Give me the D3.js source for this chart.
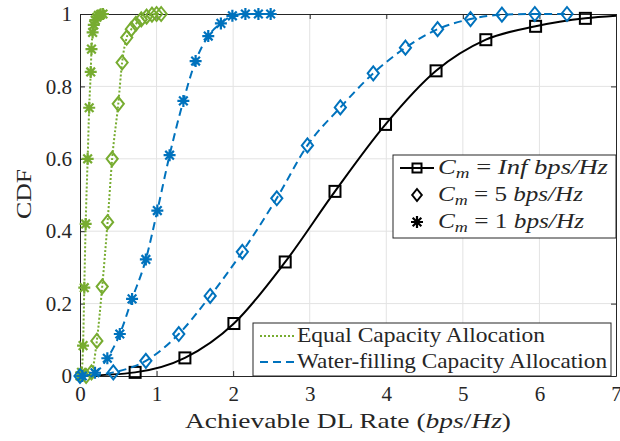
<!DOCTYPE html>
<html>
<head>
<meta charset="utf-8">
<script src="https://cdn.jsdelivr.net/npm/d3@7"></script>
<style>
  body { margin: 0; background: #fff; }
</style>
</head>
<body>
<div id="chart"></div>
<script>
// Data (rate in bps/Hz, CDF)
const infRate  = [0, 0.72, 1.37, 2.01, 2.68, 3.33, 3.99, 4.65, 5.30, 5.95, 6.60, 7.0];
const infCdf   = [0, 0.01, 0.05, 0.145, 0.315, 0.51, 0.695, 0.843, 0.929, 0.966, 0.988, 0.995];

const wf5Rate  = [0, 0.435, 0.86, 1.29, 1.70, 2.12, 2.57, 2.97, 3.40, 3.83, 4.25, 4.67, 5.10, 5.51, 5.94, 6.36];
const wf5Cdf   = [0, 0.01, 0.042, 0.116, 0.221, 0.343, 0.491, 0.637, 0.742, 0.836, 0.907, 0.958, 0.986, 0.998, 1, 1];

const wf1Rate  = [0.03, 0.196, 0.357, 0.52, 0.68, 0.86, 1.01, 1.17, 1.35, 1.51, 1.675, 1.84, 1.99, 2.16, 2.33, 2.49];
const wf1Cdf   = [0, 0.009, 0.049, 0.116, 0.213, 0.322, 0.457, 0.61, 0.76, 0.87, 0.939, 0.974, 0.995, 1, 1, 1];

const eq5Rate  = [0.08, 0.15, 0.22, 0.29, 0.36, 0.42, 0.50, 0.55, 0.61, 0.67, 0.73, 0.80, 0.87, 0.94, 1.00, 1.06];
const eq5Cdf   = [0, 0.01, 0.097, 0.247, 0.425, 0.60, 0.752, 0.866, 0.935, 0.958, 0.973, 0.985, 0.993, 0.998, 1, 1];

const eq1Rate  = [0, 0.02, 0.04, 0.056, 0.074, 0.10, 0.12, 0.14, 0.15, 0.165, 0.18, 0.20, 0.22, 0.24, 0.27, 0.30];
const eq1Cdf   = [0, 0.01, 0.084, 0.244, 0.42, 0.60, 0.741, 0.84, 0.903, 0.949, 0.97, 0.983, 0.991, 0.996, 0.999, 1];

const xTicks = [0, 1, 2, 3, 4, 5, 6, 7];
const yTicks = [0, 0.2, 0.4, 0.6, 0.8, 1];

const width = 620, height = 441;
const green = "#77AC30", blue = "#0072BD", black = "#000";

const svg = d3.select("#chart").append("svg")
    .attr("width", width)
    .attr("height", height);

const x = d3.scaleLinear().domain([0, 7]).range([80, 616]);
const y = d3.scaleLinear().domain([0, 1]).range([376, 14]);

// grid
const grid = svg.append("g");
grid.selectAll(".gx").data(xTicks.slice(1, -1)).enter().append("line")
    .attr("x1", d => x(d)).attr("x2", d => x(d))
    .attr("y1", y(0)).attr("y2", y(1))
    .attr("stroke", "#e3e3e3").attr("stroke-width", 1);
grid.selectAll(".gy").data(yTicks.slice(1, -1)).enter().append("line")
    .attr("x1", x(0)).attr("x2", x(7))
    .attr("y1", d => y(d)).attr("y2", d => y(d))
    .attr("stroke", "#e3e3e3").attr("stroke-width", 1);

// axes (ticks inward, box on)
const fmt = d => d === 0 || d === 1 ? String(d) : d3.format(".1f")(d);
const axStyle = g => {
    g.attr("font-family", null);
    g.select(".domain").attr("stroke", "#262626");
    g.selectAll(".tick line").attr("stroke", "#262626");
    g.selectAll(".tick text").style("font-size", "21px");
};
svg.append("g").attr("transform", `translate(0,${y(0)})`)
    .call(d3.axisBottom(x).tickValues(xTicks).tickSizeInner(-5).tickSizeOuter(0).tickPadding(10).tickFormat(d3.format("d")))
    .call(axStyle);
svg.append("g").attr("transform", `translate(0,${y(1)})`)
    .call(d3.axisTop(x).tickValues(xTicks).tickSizeInner(-5).tickSizeOuter(0).tickFormat(""))
    .call(axStyle);
svg.append("g").attr("transform", `translate(${x(0)},0)`)
    .call(d3.axisLeft(y).tickValues(yTicks).tickSizeInner(-5).tickSizeOuter(0).tickPadding(8).tickFormat(fmt))
    .call(axStyle);
svg.append("g").attr("transform", `translate(${x(7)},0)`)
    .call(d3.axisRight(y).tickValues(yTicks).tickSizeInner(-5).tickSizeOuter(0).tickFormat(""))
    .call(axStyle);

// marker shapes
const diamond = (g, cx, cy, color, s = 7) => g.append("path")
    .attr("d", `M${cx},${cy - s}L${cx + s * 0.8},${cy}L${cx},${cy + s}L${cx - s * 0.8},${cy}Z`)
    .attr("fill", "none").attr("stroke", color).attr("stroke-width", 2);
const square = (g, cx, cy, color, s = 5.5) => g.append("rect")
    .attr("x", cx - s).attr("y", cy - s).attr("width", 2 * s).attr("height", 2 * s)
    .attr("fill", "none").attr("stroke", color).attr("stroke-width", 2);
const star = (g, cx, cy, color, s = 6) => {
    const a = s * 0.72;
    g.append("path")
        .attr("d", `M${cx - s},${cy}H${cx + s}M${cx},${cy - s}V${cy + s}M${cx - a},${cy - a}L${cx + a},${cy + a}M${cx - a},${cy + a}L${cx + a},${cy - a}`)
        .attr("stroke", color).attr("stroke-width", 2.2).attr("fill", "none");
};

const line = d3.line().x(d => x(d[0])).y(d => y(d[1])).curve(d3.curveMonotoneX);

function drawSeries(xs, ys, color, dash, marker, firstMark = 0, lastMark = xs.length - 1) {
    const pts = xs.map((v, i) => [v, ys[i]]);
    const g = svg.append("g");
    g.append("path").datum(pts).attr("d", line)
        .attr("fill", "none").attr("stroke", color).attr("stroke-width", 2)
        .attr("stroke-dasharray", dash);
    pts.forEach((p, i) => {
        if (i >= firstMark && i <= lastMark) marker(g, x(p[0]), y(p[1]), color);
    });
}

drawSeries(infRate, infCdf, black, null, square, 1, infRate.length - 2);
drawSeries(eq5Rate, eq5Cdf, green, "2,2", diamond);
drawSeries(eq1Rate, eq1Cdf, green, "2,2", star);
drawSeries(wf5Rate, wf5Cdf, blue, "8,5", diamond);
drawSeries(wf1Rate, wf1Cdf, blue, "8,5", star);

// axis labels
svg.append("text").attr("x", 348).attr("y", 428).attr("text-anchor", "middle")
    .attr("textLength", 326).attr("lengthAdjust", "spacingAndGlyphs")
    .style("font-size", "21px")
    .html('Achievable DL Rate (<tspan font-style="italic">bps</tspan>/<tspan font-style="italic">Hz</tspan>)');
svg.append("text").attr("transform", "translate(31,194) rotate(-90)").attr("text-anchor", "middle")
    .attr("textLength", 50).attr("lengthAdjust", "spacingAndGlyphs")
    .style("font-size", "21px").text("CDF");

// legend 1: capacity
const leg1 = svg.append("g");
leg1.append("rect").attr("x", 393).attr("y", 155).attr("width", 223).attr("height", 83)
    .attr("fill", "#fff").attr("stroke", "#262626").attr("stroke-width", 1);
const capLabels = ["Inf", "5", "1"];
const capMarkers = [square, diamond, star];
const capWidths = [170, 145, 146];
capLabels.forEach((lab, i) => {
    const cy = 168 + i * 27;
    if (i === 0) leg1.append("line").attr("x1", 400).attr("x2", 434).attr("y1", cy).attr("y2", cy)
        .attr("stroke", black).attr("stroke-width", 2);
    capMarkers[i](leg1, 417, cy, black, i === 0 ? 4.5 : 6);
    const t = leg1.append("text").attr("x", 438).attr("y", cy + 6)
        .attr("textLength", capWidths[i]).attr("lengthAdjust", "spacingAndGlyphs").style("font-size", "21px");
    t.append("tspan").attr("font-style", "italic").text("C");
    t.append("tspan").attr("font-style", "italic").attr("dy", 4).style("font-size", "15px").text("m");
    t.append("tspan").attr("dy", -4).text(" = ");
    if (i === 0) {
        t.append("tspan").attr("font-style", "italic").text("Inf  bps/Hz");
    } else {
        t.append("tspan").text(lab + " ");
        t.append("tspan").attr("font-style", "italic").text("bps/Hz");
    }
});

// legend 2: allocation scheme
const leg2 = svg.append("g");
leg2.append("rect").attr("x", 253).attr("y", 323).attr("width", 358).attr("height", 53)
    .attr("fill", "#fff").attr("stroke", "#262626").attr("stroke-width", 1);
const schemes = ["Equal Capacity Allocation", "Water-filling Capacity Allocation"];
const schemeColors = [green, blue];
const schemeDash = ["2,2", "8,5"];
const schemeWidths = [248, 310];
schemes.forEach((s, i) => {
    const cy = 336 + i * 26;
    leg2.append("line").attr("x1", 260).attr("x2", 294).attr("y1", cy).attr("y2", cy)
        .attr("stroke", schemeColors[i]).attr("stroke-width", 2).attr("stroke-dasharray", schemeDash[i]);
    leg2.append("text").attr("x", 297).attr("y", cy + 6)
        .attr("textLength", schemeWidths[i]).attr("lengthAdjust", "spacingAndGlyphs")
        .style("font-size", "21px").text(s);
});

// serif font everywhere, inline so the axis defaults cannot win
svg.selectAll("text").style("font-family", "Liberation Serif").style("fill", "#262626");
</script>
</body>
</html>
